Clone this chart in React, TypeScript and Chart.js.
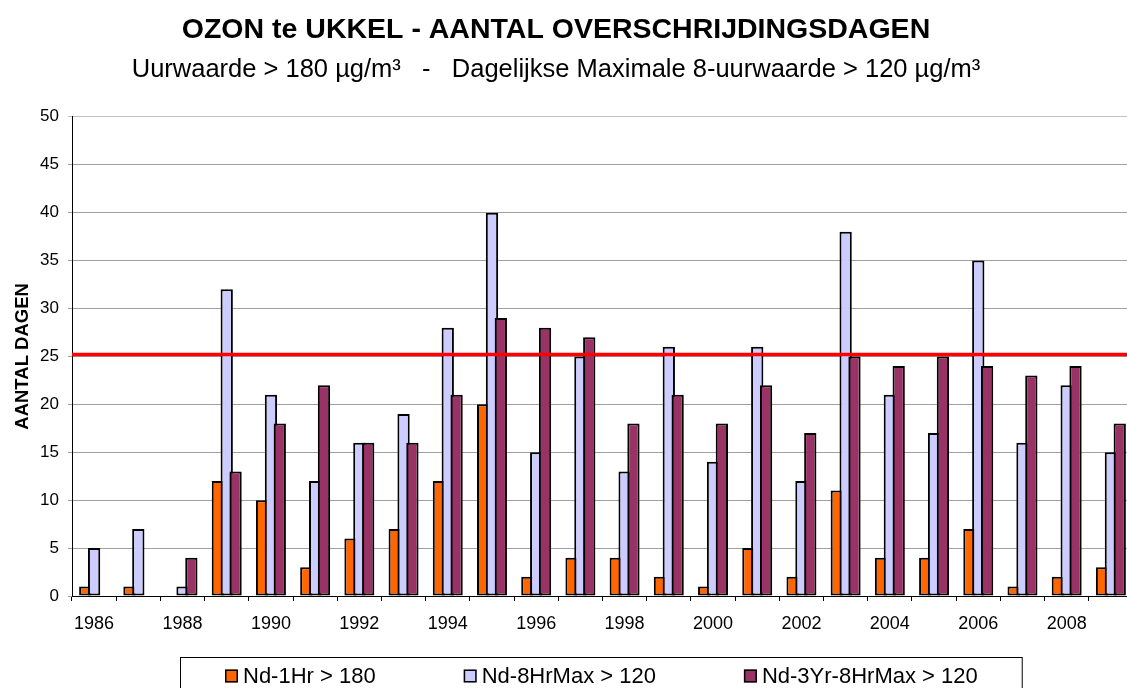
import React, { useEffect, useRef } from 'react';
import { Chart, registerables } from 'chart.js';

Chart.register(...registerables);

const YEARS = ['1986', '1987', '1988', '1989', '1990', '1991', '1992', '1993', '1994', '1995', '1996', '1997', '1998', '1999', '2000', '2001', '2002', '2003', '2004', '2005', '2006', '2007', '2008', '2009'];
const ND_1HR_180 = [1, 1, 0, 12, 10, 3, 6, 7, 12, 20, 2, 4, 4, 2, 1, 5, 2, 11, 4, 4, 7, 1, 2, 3];
const ND_8HRMAX_120 = [5, 7, 1, 32, 21, 12, 16, 19, 28, 40, 15, 25, 13, 26, 14, 26, 12, 38, 21, 17, 35, 16, 22, 15];
const ND_3YR_8HRMAX_120 = [0, 0, 4, 13, 18, 22, 16, 16, 21, 29, 28, 27, 18, 21, 18, 22, 17, 25, 24, 25, 24, 23, 24, 18];
const SERIES_LABELS = ['Nd-1Hr > 180', 'Nd-8HrMax > 120', 'Nd-3Yr-8HrMax > 120'];
const SERIES_COLORS = ['#ff6600', '#ccccff', '#993366'];
const THRESHOLD = 25.2;
const Y_MIN = 0;
const Y_MAX = 50;
const Y_STEP = 5;
const TITLE = 'OZON te UKKEL - AANTAL OVERSCHRIJDINGSDAGEN';
const SUBTITLE = 'Uurwaarde > 180 µg/m³   -   Dagelijkse Maximale 8-uurwaarde > 120 µg/m³';
const Y_TITLE = 'AANTAL DAGEN';

const FONT = "'Liberation Sans', Arial, sans-serif";

function drawThreshold(chart: any) {
  const { ctx, chartArea, scales } = chart;
  const y = scales.y.getPixelForValue(THRESHOLD);
  ctx.save();
  ctx.strokeStyle = '#ff0000';
  ctx.lineWidth = 3.5;
  ctx.beginPath();
  ctx.moveTo(chartArea.left, y);
  ctx.lineTo(chartArea.right, y);
  ctx.stroke();
  ctx.restore();
}

// Draw series left-to-right so that later (right-hand) bars overlap earlier ones, as in the original.
const drawOrderPlugin = {
  id: 'drawOrder',
  beforeDatasetsDraw(chart: any) {
    const { ctx, chartArea } = chart;
    const metas = chart.getSortedVisibleDatasetMetas();
    ctx.save();
    ctx.beginPath();
    ctx.rect(chartArea.left, chartArea.top - 20, chartArea.right - chartArea.left, chartArea.bottom - chartArea.top + 22);
    ctx.clip();
    metas.forEach((m: any) => m.controller.draw());
    ctx.restore();
    drawThreshold(chart);
    return false;
  },
};

const boxLegendPlugin = {
  id: 'boxLegend',
  afterDraw(chart: any) {
    const { ctx, chartArea } = chart;
    const items = chart.data.datasets.map((ds: any) => ({ label: ds.label, color: ds.backgroundColor }));
    ctx.save();
    ctx.font = `22px ${FONT}`;
    const top = chartArea.bottom + 61;
    const left = 180;
    const sq = 13;
    const sqGap = 5;
    const gap = 88;
    const padL = 45;
    const padR = 44;
    const widths = items.map((it: any) => ctx.measureText(it.label).width);
    let total = padL + padR;
    widths.forEach((w: number, i: number) => {
      total += sq + sqGap + w + (i < widths.length - 1 ? gap : 0);
    });
    ctx.fillStyle = '#ffffff';
    ctx.fillRect(left, top, total, 50);
    ctx.strokeStyle = '#000000';
    ctx.lineWidth = 1;
    ctx.strokeRect(left + 0.5, top + 0.5, total, 50);
    const cy = top + 19;
    let x = left + padL;
    items.forEach((it: any, i: number) => {
      ctx.fillStyle = it.color;
      ctx.fillRect(x, cy - sq / 2, sq, sq);
      ctx.strokeStyle = '#000000';
      ctx.lineWidth = 1.5;
      ctx.strokeRect(x + 0.75, cy - sq / 2 + 0.75, sq - 1.5, sq - 1.5);
      ctx.fillStyle = '#000000';
      ctx.textBaseline = 'middle';
      ctx.textAlign = 'left';
      ctx.fillText(it.label, x + sq + sqGap, cy + 1);
      x += sq + sqGap + widths[i] + gap;
    });
    ctx.restore();
  },
};

export default function App() {
  const canvasRef = useRef<HTMLCanvasElement | null>(null);

  useEffect(() => {
    if (!canvasRef.current) return;
    const seriesData = [ND_1HR_180, ND_8HRMAX_120, ND_3YR_8HRMAX_120];
    const chart = new Chart(canvasRef.current, {
      type: 'bar',
      data: {
        labels: YEARS,
        datasets: seriesData.map((d, i) => ({
          label: SERIES_LABELS[i],
          data: d,
          backgroundColor: SERIES_COLORS[i],
          borderColor: '#000000',
          borderWidth: (c: any) => (c.raw === 0 ? 0 : 2),
          borderSkipped: false,
          categoryPercentage: 0.6,
          barPercentage: 1.39,
        })),
      },
      options: {
        responsive: false,
        animation: false,
        devicePixelRatio: 1,
        layout: { padding: { left: -21, right: 3, top: 0, bottom: 64 } },
        plugins: {
          legend: { display: false },
          tooltip: { enabled: false },
          title: {
            display: true,
            text: TITLE,
            color: '#000000',
            font: { family: FONT, size: 28.5, weight: 'bold' },
            padding: { top: 13, bottom: 0 },
          },
          subtitle: {
            display: true,
            text: SUBTITLE,
            color: '#000000',
            font: { family: FONT, size: 25.5 },
            padding: { top: 7, bottom: 32 },
          },
        },
        scales: {
          x: {
            offset: true,
            grid: {
              offset: true,
              drawOnChartArea: false,
              drawTicks: true,
              tickLength: 5,
              color: '#000000',
            },
            border: { display: true, color: '#000000', width: 1 },
            ticks: {
              autoSkip: false,
              maxRotation: 0,
              minRotation: 0,
              padding: 12,
              color: '#000000',
              font: { family: FONT, size: 18 },
              callback: (_v: any, i: number) => (i % 2 === 0 ? YEARS[i] : ''),
            },
            afterFit: (s: any) => {
              s.height = 40;
            },
          },
          y: {
            min: Y_MIN,
            max: Y_MAX,
            grid: {
              color: (c: any) => (c.tick && c.tick.value === Y_MAX ? '#c0c0c0' : '#a0a0a0'),
              drawTicks: true,
              tickLength: 4,
            },
            border: { display: true, color: '#000000', width: 1 },
            ticks: {
              stepSize: Y_STEP,
              padding: 9,
              color: '#000000',
              font: { family: FONT, size: 17 },
            },
            title: {
              display: true,
              text: Y_TITLE,
              color: '#000000',
              font: { family: FONT, size: 18.5, weight: 'bold' },
              padding: { top: 33, bottom: 0 },
            },
            afterFit: (s: any) => {
              s.width = 93;
            },
          },
        },
      },
      plugins: [drawOrderPlugin, boxLegendPlugin],
    } as any);
    return () => chart.destroy();
  }, []);

  return (
    <div style={{ position: 'fixed', left: 0, top: 0, width: 1136, height: 700, background: '#ffffff' }}>
      <canvas ref={canvasRef} width={1136} height={700} />
    </div>
  );
}
